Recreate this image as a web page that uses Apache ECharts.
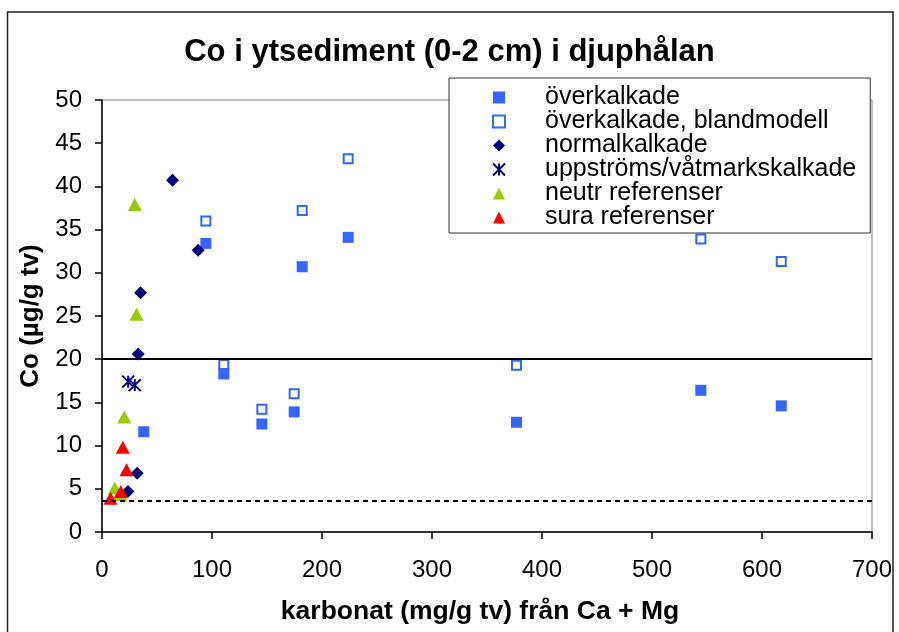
<!DOCTYPE html>
<html>
<head>
<meta charset="utf-8">
<script src="https://cdn.jsdelivr.net/npm/echarts@6/dist/echarts.min.js"></script>
<style>
  html, body { margin: 0; padding: 0; background: #fff; }
  #chart { width: 899px; height: 632px; }
</style>
</head>
<body>
<div id="chart"></div>
<script>
// Karbonat (mg/g tv) och Co (µg/g tv) per provgrupp
const overkalkadeX = [38, 94.4, 110.7, 145.3, 174.7, 182, 223.8, 376.8, 544.4, 617.5];
const overkalkadeY = [11.6, 33.4, 18.3, 12.5, 13.9, 30.7, 34.1, 12.7, 16.4, 14.6];

const blandmodellX = [94.4, 110.7, 145.3, 174.7, 182, 223.8, 376.8, 544.4, 617.5];
const blandmodellY = [36.0, 19.4, 14.2, 16.0, 37.2, 43.2, 19.3, 33.9, 31.3];

const normalkalkadeX = [64.1, 87.4, 35, 32.9, 32, 23.6];
const normalkalkadeY = [40.7, 32.6, 27.7, 20.6, 6.8, 4.7];

const uppstromsX = [23.8, 29.8];
const uppstromsY = [17.4, 17.0];

const neutrX = [29.8, 31.4, 20.2, 11.6, 17];
const neutrY = [37.9, 25.2, 13.3, 5.1, 4.3];

const suraX = [18.9, 22.3, 17.1, 7.7];
const suraY = [9.8, 7.2, 4.7, 3.9];

// Referensnivåer (µg/g tv)
const solidLevel = 20;
const dashedLevel = 3.6;

const seriesNames = [
  'överkalkade',
  'överkalkade, blandmodell',
  'normalkalkade',
  'uppströms/våtmarkskalkade',
  'neutr referenser',
  'sura referenser'
];

const FONT = '"Liberation Sans", Arial, sans-serif';

function pairs(xs, ys) {
  return xs.map((x, i) => [x, ys[i]]);
}

const ASTERISK = 'path://M0,0L10,10M10,0L0,10M5,0L5,10';

const chart = echarts.init(document.getElementById('chart'), null, { renderer: 'canvas' });

chart.setOption({
  animation: false,
  backgroundColor: '#fff',
  textStyle: { fontFamily: FONT },
  graphic: [{
    type: 'rect',
    shape: { x: 7.5, y: 12, width: 885.5, height: 650 },
    style: { fill: 'none', stroke: '#222', lineWidth: 1.5 },
    silent: true,
    z: -1
  }],
  title: {
    text: 'Co i ytsediment (0-2 cm) i djuphålan',
    left: 'center',
    top: 32,
    textStyle: { fontFamily: FONT, fontSize: 31, fontWeight: 'bold', color: '#000' }
  },
  grid: {
    left: 102, right: 27, top: 100, bottom: 100,
    show: true, borderColor: '#808080', borderWidth: 1, backgroundColor: 'transparent'
  },
  legend: {
    orient: 'vertical',
    left: 449,
    top: 78,
    padding: [7, 14, 3, 43],
    itemGap: -1,
    itemWidth: 12,
    itemHeight: 12,
    backgroundColor: '#fff',
    borderColor: '#333',
    borderWidth: 1,
    selectedMode: false,
    textStyle: {
      fontFamily: FONT, fontSize: 25, color: '#000',
      lineHeight: 23, padding: [0, 0, 0, 35]
    },
    data: seriesNames
  },
  xAxis: {
    type: 'value',
    min: 0, max: 700, interval: 100,
    name: 'karbonat (mg/g tv) från Ca + Mg',
    nameLocation: 'middle',
    nameGap: 66,
    nameTextStyle: {
      fontFamily: FONT, fontSize: 26.5, fontWeight: 'bold', color: '#000',
      padding: [0, 14, 0, 0]
    },
    axisLine: { show: true, onZero: false, lineStyle: { color: '#000', width: 1.5 } },
    axisTick: { show: true, inside: false, length: 7, lineStyle: { color: '#000', width: 1.5 } },
    axisLabel: { fontFamily: FONT, fontSize: 24, color: '#000', margin: 26 },
    splitLine: { show: false }
  },
  yAxis: {
    type: 'value',
    min: 0, max: 50, interval: 5,
    name: 'Co (µg/g tv)',
    nameLocation: 'middle',
    nameGap: 58,
    nameRotate: 90,
    nameTextStyle: { fontFamily: FONT, fontSize: 26, fontWeight: 'bold', color: '#000' },
    axisLine: { show: true, onZero: false, lineStyle: { color: '#000', width: 1.5 } },
    axisTick: { show: true, inside: false, length: 7, lineStyle: { color: '#000', width: 1.5 } },
    axisLabel: { fontFamily: FONT, fontSize: 24, color: '#000', margin: 20 },
    splitLine: { show: false }
  },
  series: [
    {
      name: seriesNames[0],
      type: 'scatter',
      symbol: 'rect',
      symbolSize: 11,
      itemStyle: { color: '#3366FF', opacity: 1 },
      data: pairs(overkalkadeX, overkalkadeY),
      markLine: {
        silent: true,
        symbol: 'none',
        label: { show: false },
        animation: false,
        data: [
          { yAxis: solidLevel, lineStyle: { color: '#000', width: 2, type: 'solid' } },
          { yAxis: dashedLevel, lineStyle: { color: '#000', width: 2, type: [5, 4] } }
        ]
      }
    },
    {
      name: seriesNames[1],
      type: 'scatter',
      symbol: 'rect',
      symbolSize: 9,
      itemStyle: { color: '#fff', borderColor: '#3366FF', borderWidth: 2, opacity: 1 },
      data: pairs(blandmodellX, blandmodellY)
    },
    {
      name: seriesNames[2],
      type: 'scatter',
      symbol: 'diamond',
      symbolSize: 13,
      itemStyle: { color: '#000080', opacity: 1 },
      data: pairs(normalkalkadeX, normalkalkadeY)
    },
    {
      name: seriesNames[3],
      type: 'scatter',
      symbol: ASTERISK,
      symbolSize: 12,
      itemStyle: { color: 'rgba(0,0,0,0)', borderColor: '#000080', borderWidth: 2, opacity: 1 },
      data: pairs(uppstromsX, uppstromsY)
    },
    {
      name: seriesNames[4],
      type: 'scatter',
      symbol: 'triangle',
      symbolSize: [14, 13],
      itemStyle: { color: '#99CC00', opacity: 1 },
      data: pairs(neutrX, neutrY)
    },
    {
      name: seriesNames[5],
      type: 'scatter',
      symbol: 'triangle',
      symbolSize: [14, 13],
      itemStyle: { color: '#FF0000', opacity: 1 },
      data: pairs(suraX, suraY)
    }
  ]
});
</script>
</body>
</html>
